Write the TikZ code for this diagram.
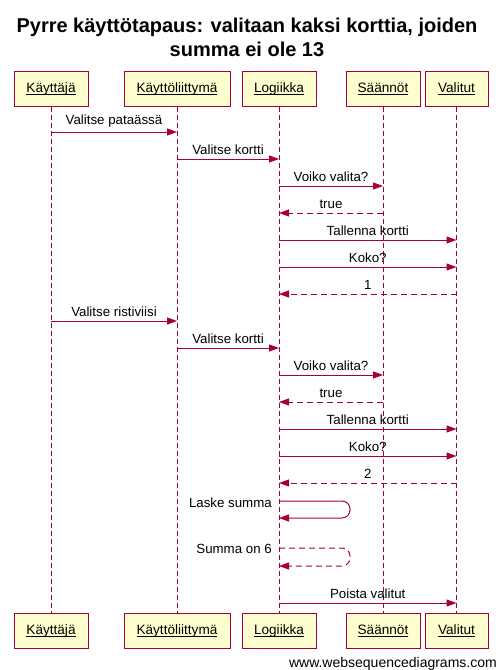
\documentclass[tikz,border=0pt]{standalone}
\usepackage{fontspec}
\setmainfont{Liberation Sans}
\usetikzlibrary{arrows.meta}
\definecolor{seqline}{HTML}{A80036}
\definecolor{seqfill}{HTML}{FEFECE}
% underline at a fixed depth below the baseline
\newcommand\actname[1]{\setbox0=\hbox{#1}\rlap{\raisebox{-2.5pt}{\rule{\wd0}{0.9pt}}}\box0}
\tikzset{
  actor/.style={draw=seqline, fill=seqfill, line width=1pt, minimum height=35pt,
    inner sep=0pt, font=\fontsize{13.6}{15}\selectfont},
  life/.style={draw=seqline, line width=1pt, dash pattern=on 5pt off 3pt},
  msg/.style={draw=seqline, line width=1pt, -{Triangle[length=10pt,width=7pt]}},
  ret/.style={msg, dash pattern=on 6pt off 4pt},
  lbl/.style={font=\fontsize{13.3}{15}\selectfont, inner sep=0pt, anchor=base},
  slbl/.style={font=\fontsize{13.3}{15}\selectfont, inner sep=0pt, anchor=base east}
}
% message between two lifelines at height #4
\newcommand\seqmsg[5][msg]{%
  \draw[#1] (#2 |- 0,#4) -- node[lbl, above=4pt] {#5} (#3 |- 0,#4);}
\begin{document}
\begin{tikzpicture}[x=1pt,y=-1pt]
\useasboundingbox (0,0) rectangle (499,670);
\fill[white] (0,0) rectangle (499,670);

\node[font=\bfseries\fontsize{20}{24}\selectfont, align=center] (title) at (247,37)
  {Pyrre käyttötapaus: valitaan kaksi korttia, joiden\\summa ei ole 13};

% participants, top row
\node[actor, minimum width=74pt]  (kt) at (51,88.5)  {\actname{Käyttäjä}};
\node[actor, minimum width=106pt] (ui) at (177,88.5) {\actname{Käyttöliittymä}};
\node[actor, minimum width=74pt]  (lo) at (279,88.5) {\actname{Logiikka}};
\node[actor, minimum width=74pt]  (sa) at (383,88.5) {\actname{Säännöt}};
\node[actor, minimum width=63pt]  (va) at (456.5,88.5) {\actname{Valitut}};
% participants, bottom row
\node[actor, minimum width=74pt]  (ktb) at (51,630.5)  {\actname{Käyttäjä}};
\node[actor, minimum width=106pt] (uib) at (177,630.5) {\actname{Käyttöliittymä}};
\node[actor, minimum width=74pt]  (lob) at (279,630.5) {\actname{Logiikka}};
\node[actor, minimum width=74pt]  (sab) at (383,630.5) {\actname{Säännöt}};
\node[actor, minimum width=63pt]  (vab) at (456.5,630.5) {\actname{Valitut}};

% lifelines
\draw[life] (kt.south) -- (ktb.north);
\draw[life] (ui.south) -- (uib.north);
\draw[life] (lo.south) -- (lob.north);
\draw[life] (sa.south) -- (sab.north);
\draw[life] (va.south) -- (vab.north);

% first card
\seqmsg{kt}{ui}{132}{Valitse pataässä}
\seqmsg{ui}{lo}{159}{Valitse kortti}
\seqmsg{lo}{sa}{186}{Voiko valita?}
\seqmsg[ret]{sa}{lo}{213}{true}
\seqmsg{lo}{va}{240}{Tallenna kortti}
\seqmsg{lo}{va}{267}{Koko?}
\seqmsg[ret]{va}{lo}{294}{1}
% second card
\seqmsg{kt}{ui}{321}{Valitse ristiviisi}
\seqmsg{ui}{lo}{348}{Valitse kortti}
\seqmsg{lo}{sa}{375}{Voiko valita?}
\seqmsg[ret]{sa}{lo}{402}{true}
\seqmsg{lo}{va}{429}{Tallenna kortti}
\seqmsg{lo}{va}{456}{Koko?}
\seqmsg[ret]{va}{lo}{483}{2}

% self messages on the logic lifeline
\draw[msg, rounded corners=8pt] (lo |- 0,501) -- (350,501) -- (350,518) -- (lo |- 0,518);
\node[slbl] (laske) at (272,507) {Laske summa};
\draw[ret, rounded corners=8pt] (lo |- 0,548) -- (350,548) -- (350,566) -- (lo |- 0,566);
\node[slbl] (summa) at (272,553) {Summa on 6};

\seqmsg{lo}{va}{603}{Poista valitut}

\node[font=\fontsize{14}{16}\selectfont, inner sep=0pt, anchor=base east] (www) at (497,667)
  {www.websequencediagrams.com};
\end{tikzpicture}
\end{document}
